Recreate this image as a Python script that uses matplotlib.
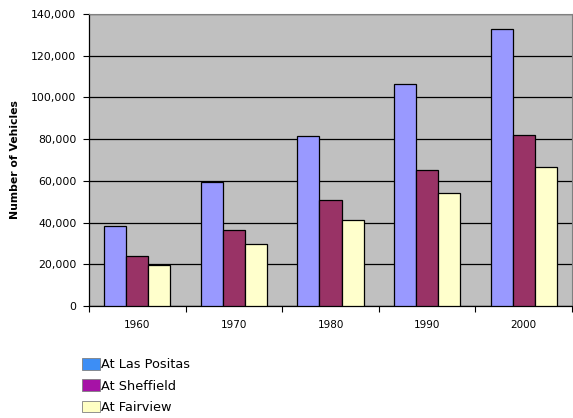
import matplotlib.pyplot as plt
import matplotlib.patches as mpatches
import numpy as np
from matplotlib.ticker import FuncFormatter

plt.rcParams['font.family'] = ['DejaVu Sans']

# vehicle counts by decade at each location
years = ['1960', '1970', '1980', '1990', '2000']
las_positas = [38500, 59300, 81700, 106300, 132800]
sheffield = [23800, 36200, 50700, 65200, 82000]
fairview = [19700, 29800, 41100, 54200, 66600]

series = [('At Las Positas', las_positas, '#9999ff', '#3d8ef5'),
          ('At Sheffield', sheffield, '#993366', '#a612a6'),
          ('At Fairview', fairview, '#ffffcc', '#ffffc4')]

fig = plt.figure(figsize=(5.73, 4.18), dpi=100)
ax = fig.add_axes([0.1553, 0.268, 0.8430, 0.6985])
ax.set_facecolor('#c0c0c0')

x = np.arange(len(years))
w = 0.228
for i, (name, vals, col, _) in enumerate(series):
    ax.bar(x + (i - 1) * w, vals, w, color=col, edgecolor='black', linewidth=0.9, zorder=3)

ax.set_xlim(-0.5, len(years) - 0.5)
ax.set_ylim(0, 140000)
ax.set_yticks(range(0, 140001, 20000))
ax.yaxis.set_major_formatter(FuncFormatter(lambda v, p: f'{int(v):,}'))
ax.grid(axis='y', color='black', linewidth=0.9, zorder=1)

ax.set_xticks(x)
ax.set_xticklabels(years)
ax.set_xticks(np.arange(-0.5, len(years)), minor=True)
ax.tick_params(axis='x', which='major', length=0, pad=10, labelsize=7.5)
ax.tick_params(axis='x', which='minor', length=4, width=0.8)
ax.tick_params(axis='y', length=4, width=0.8, labelsize=7.8, pad=5)

for s in ['top', 'right']:
    ax.spines[s].set_color('#808080')
    ax.spines[s].set_linewidth(0.8)
for s in ['left', 'bottom']:
    ax.spines[s].set_linewidth(0.9)

ax.set_ylabel('Number of Vehicles', fontsize=7.8, fontweight='bold', labelpad=8)

handles = [mpatches.Patch(facecolor=lc, edgecolor='#808080', linewidth=0.6, label=name)
           for name, _, _, lc in series]
fig.legend(handles=handles, loc='upper left', bbox_to_anchor=(0.143, 0.143),
           frameon=False, fontsize=9.3, handlelength=1.38, handleheight=1.0,
           handletextpad=0.1, labelspacing=0.62, borderaxespad=0, borderpad=0)

fig.savefig('out.png', dpi=100)
